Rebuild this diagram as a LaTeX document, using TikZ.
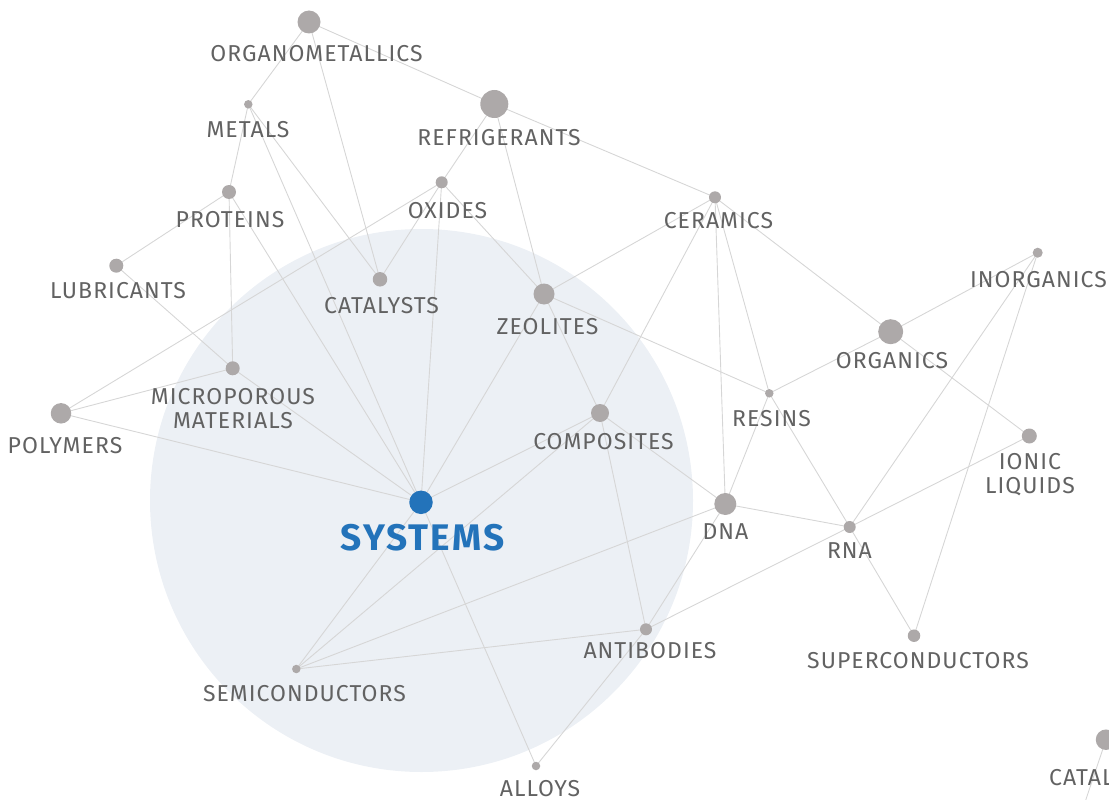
\documentclass[tikz,border=0pt]{standalone}
\usepackage{fontspec}
\setmainfont{Fira Sans}
\newfontfamily\lblfont[LetterSpace=4.5]{Fira Sans}
\newfontfamily\sysfont[LetterSpace=5.5]{Fira Sans}
\definecolor{dotgray}{HTML}{ADA9A9}
\definecolor{edgegray}{HTML}{D6D6D6}
\definecolor{txtgray}{HTML}{626262}
\definecolor{bluesys}{HTML}{2373BA}
\definecolor{circfill}{HTML}{ECF0F5}
\pgfdeclarelayer{bgl}
\pgfdeclarelayer{edl}
\pgfsetlayers{bgl,edl,main}
\tikzset{
  nd/.style={circle, fill=dotgray, inner sep=0pt, minimum size=#1},
  lbl/.style={anchor=base, text=txtgray, inner sep=0pt, font=\lblfont\fontsize{23}{26}\selectfont},
  ed/.style={draw=edgegray, line width=0.9pt}
}
\begin{document}
\begin{tikzpicture}[x=1pt,y=-1pt]
\useasboundingbox (0,0) rectangle (1109,800);
\clip (0,0) rectangle (1109,800);
\begin{pgfonlayer}{bgl}
\fill[circfill] (421.5,500.5) circle (271.5);
\end{pgfonlayer}
% dots
\node[nd=23] (om) at (309,22) {};
\node[nd=8.5] (me) at (248.3,104.3) {};
\node[nd=28] (ref) at (494.3,104) {};
\node[nd=14] (pro) at (229,192) {};
\node[nd=12] (ox) at (441.7,182.3) {};
\node[nd=12] (cer) at (715,197.3) {};
\node[nd=14] (lub) at (116.3,265.7) {};
\node[nd=14.5] (cat) at (380,279.3) {};
\node[nd=21] (zeo) at (544,294) {};
\node[nd=10] (ino) at (1037.7,252.7) {};
\node[nd=25] (org) at (890.7,331.7) {};
\node[nd=14] (mic) at (232.7,368.3) {};
\node[nd=20.5] (pol) at (61,413.3) {};
\node[nd=8.5] (res) at (769.3,393.3) {};
\node[nd=18] (com) at (600,413) {};
\node[nd=15] (ion) at (1029.3,436) {};
\node[nd=22] (dna) at (725.3,504) {};
\node[nd=12] (rna) at (849.7,527) {};
\node[nd=23.5, fill=bluesys] (sys) at (421,502.3) {};
\node[nd=12] (ant) at (646,629.3) {};
\node[nd=12.5] (sup) at (914,635.7) {};
\node[nd=8.5] (semi) at (296.3,669) {};
\node[nd=8.5] (all) at (536,766) {};
\node[nd=20.5] (cat2) at (1106,739.7) {};
\coordinate (off) at (1079,820);
% labels
\node[lbl] (lom) at (316.5,62) {ORGANOMETALLICS};
\node[lbl] (lme) at (248,137) {METALS};
\node[lbl] (lref) at (499,145) {REFRIGERANTS};
\node[lbl] (lox) at (447.5,218) {OXIDES};
\node[lbl] (lcer) at (718.5,228) {CERAMICS};
\node[lbl] (lpro) at (230,227) {PROTEINS};
\node[lbl] (llub) at (118,298) {LUBRICANTS};
\node[lbl] (lcat) at (381.5,313) {CATALYSTS};
\node[lbl] (lzeo) at (547.5,334) {ZEOLITES};
\node[lbl] (lino) at (1038.5,287) {INORGANICS};
\node[lbl] (lorg) at (892,368) {ORGANICS};
\node[lbl] (lmic1) at (233,404) {MICROPOROUS};
\node[lbl] (lmic2) at (233,428) {MATERIALS};
\node[lbl] (lpol) at (65,453) {POLYMERS};
\node[lbl] (lres) at (771.5,426) {RESINS};
\node[lbl] (lcom) at (603.5,449) {COMPOSITES};
\node[lbl] (lion1) at (1030,469) {IONIC};
\node[lbl] (lion2) at (1030,493) {LIQUIDS};
\node[lbl] (ldna) at (725.5,539) {DNA};
\node[lbl] (lrna) at (849.5,558) {RNA};
\node[lbl] (lsup) at (918,668) {SUPERCONDUCTORS};
\node[lbl] (lant) at (650,658) {ANTIBODIES};
\node[lbl] (lsemi) at (304.5,701) {SEMICONDUCTORS};
\node[lbl] (lall) at (540,796) {ALLOYS};
\node[lbl, text=bluesys, font=\sysfont\fontsize{37}{40}\selectfont\bfseries] (lsys) at (422.5,550) {SYSTEMS};
\node[lbl, anchor=base west] (lcat2) at (1049,785) {CATALYSTS};
% edges
\begin{pgfonlayer}{edl}
\foreach \a/\b in {om/me, om/cat, om/ref,
  me/pro, me/cat, me/sys,
  ref/ox, ref/zeo, ref/cer,
  ox/cat, ox/sys, ox/zeo, ox/pol,
  pro/lub, pro/mic, pro/sys,
  lub/mic, mic/pol, mic/sys, pol/sys,
  cer/zeo, cer/com, cer/dna, cer/res, cer/org,
  zeo/com, zeo/sys, zeo/res,
  ino/org, ino/rna, ino/sup,
  org/res, org/ion,
  res/dna, res/rna,
  com/sys, com/dna, com/ant, com/semi,
  dna/rna, dna/semi, dna/ant,
  ion/rna, rna/ant, rna/sup,
  sys/semi, sys/all,
  semi/ant, ant/all, cat2/off}
  \draw[ed] (\a.center) -- (\b.center);
\end{pgfonlayer}
\end{tikzpicture}
\end{document}
